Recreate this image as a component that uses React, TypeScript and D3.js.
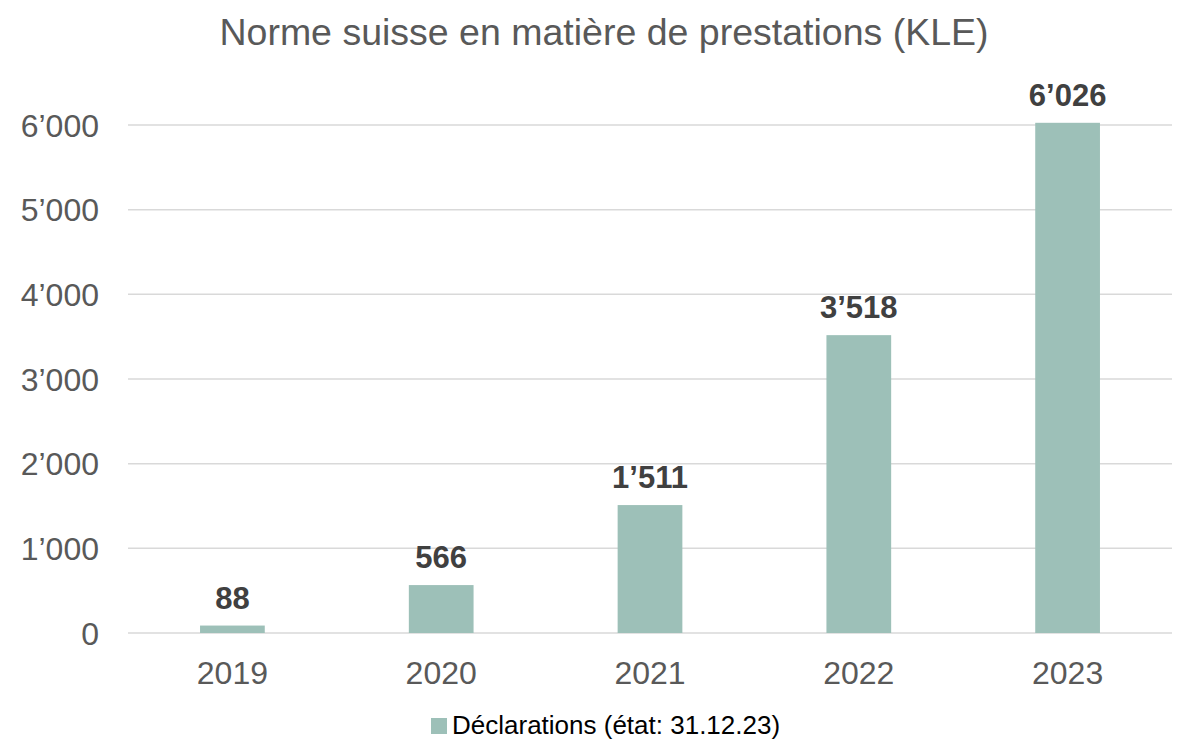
import React from "react";
import * as d3 from "d3";

const years = ["2019", "2020", "2021", "2022", "2023"];
const values = [88, 566, 1511, 3518, 6026];
const yTicks = [0, 1000, 2000, 3000, 4000, 5000, 6000];
const title = "Norme suisse en matière de prestations (KLE)";
const legendLabel = "Déclarations (état: 31.12.23)";

const fmt = (v: number) => d3.format(",")(v).replace(/,/g, "\u2019");

export default function App() {
  const W = 1177, H = 741;
  const left = 128, right = 1172, top = 125, bottom = 633;
  const x = d3.scaleBand<string>().domain(years).range([left, right]).paddingInner(0.69).paddingOuter(0.345);
  const y = d3.scaleLinear().domain([0, 6000]).range([bottom, top]);
  const barColor = "#9dc0b8";
  const font = "Liberation Sans, Arial, sans-serif";
  return (
    <svg width={W} height={H} style={{ position: "absolute", left: 0, top: 0 }} fontFamily={font}>
      <rect width={W} height={H} fill="#fff" />
      <text x={604} y={45} textAnchor="middle" fontSize={37.5} fill="#595959">{title}</text>
      {yTicks.map((t) => (
        <g key={t}>
          <line x1={left} x2={right} y1={y(t)} y2={y(t)} stroke="#d9d9d9" strokeWidth={1.5} />
          <text x={99} y={y(t)} dy="0.36em" textAnchor="end" fontSize={32} fill="#595959">{fmt(t)}</text>
        </g>
      ))}
      {years.map((yr, i) => (
        <g key={yr}>
          <rect x={x(yr)} y={y(values[i])} width={x.bandwidth()} height={bottom - y(values[i])} fill={barColor} />
          <text x={(x(yr) as number) + x.bandwidth() / 2} y={y(values[i]) - 17} textAnchor="middle" fontSize={31} fontWeight="bold" fill="#404040">{fmt(values[i])}</text>
          <text x={(x(yr) as number) + x.bandwidth() / 2} y={684} textAnchor="middle" fontSize={32} fill="#595959">{yr}</text>
        </g>
      ))}
      <rect x={431} y={718} width={16} height={16} fill={barColor} />
      <text x={452} y={734} fontSize={26} fill="#000">{legendLabel}</text>
    </svg>
  );
}
